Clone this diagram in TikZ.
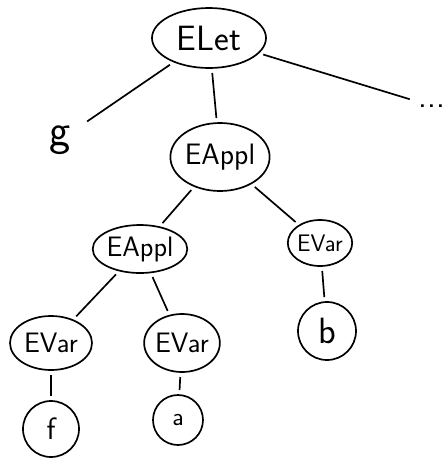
\documentclass[tikz,border=0pt]{standalone}
\usepackage{tikz}
\usetikzlibrary{positioning}
\usetikzlibrary{shapes.geometric}
\tikzstyle{astnode} = [draw,ellipse,line width=1.2pt,inner sep=0pt,font=\sffamily\fontsize{20}{24}\selectfont]
\tikzstyle{leafnode} = [draw,circle,line width=1.2pt,inner sep=0pt,font=\sffamily\fontsize{22}{26}\selectfont]
\tikzstyle{edge} = [line width=1.2pt,shorten <=3pt,shorten >=3pt]

\begin{document}
\begin{tikzpicture}[on grid]
					\useasboundingbox (0,0) rectangle (11.175,-11.45);

					%Nodes
					\node (ELet) [astnode,minimum width=2.85cm,minimum height=1.5cm,font=\sffamily\fontsize{25}{28}\selectfont] at (5.225,-0.95) {ELet};
					\node (g) [font=\sffamily\fontsize{32}{36}\selectfont, below left=2.55cm and 3.725cm of ELet] {g};
					\node (dots) [font=\sffamily\fontsize{24}{28}\selectfont, below right=1.7cm and 5.575cm of ELet] {...};
					\node (EApplTop) [astnode,minimum width=2.1cm,minimum height=1.7cm,font=\sffamily\fontsize{21}{24}\selectfont, below right=2.975cm and 0.275cm of ELet] {EAppl};
					\node (EApplLeft) [astnode,minimum width=2.2cm,minimum height=1.2cm, below left=2.3cm and 2cm of EApplTop] {EAppl};
					\node (EVarB) [astnode,minimum width=1.55cm,minimum height=1.15cm,font=\sffamily\fontsize{17}{20}\selectfont, below right=2.15cm and 2.5cm of EApplTop] {EVar};
					\node (EVarF) [astnode,minimum width=2.05cm,minimum height=1.35cm, below left=2.35cm and 2.225cm of EApplLeft] {EVar};
					\node (EVarA) [astnode,minimum width=1.7cm,minimum height=1.45cm, below right=2.35cm and 1.05cm of EApplLeft] {EVar};
					\node (b) [leafnode,minimum size=1.45cm,font=\sffamily\fontsize{26}{30}\selectfont, below right=2.2cm and 0.175cm of EVarB] {b};
					\node (f) [leafnode,minimum size=1.4cm, below=2.15cm of EVarF] {f};
					\node (a) [leafnode,minimum width=1.25cm,minimum height=1.2cm,font=\sffamily\fontsize{18}{22}\selectfont, below left=1.925cm and 0.1cm of EVarA] {a};

					%Lines
					\draw[edge,shorten >=10pt] (ELet) -- (g);
					\draw[edge] (ELet) -- (EApplTop);
					\draw[edge] (ELet) -- (dots);
					\draw[edge] (EApplTop) -- (EApplLeft);
					\draw[edge] (EApplTop) -- (EVarB);
					\draw[edge] (EApplLeft) -- (EVarF);
					\draw[edge] (EApplLeft) -- (EVarA);
					\draw[edge] (EVarF) -- (f);
					\draw[edge] (EVarA) -- (a);
					\draw[edge] (EVarB) -- (b);
				\end{tikzpicture}
\end{document}
